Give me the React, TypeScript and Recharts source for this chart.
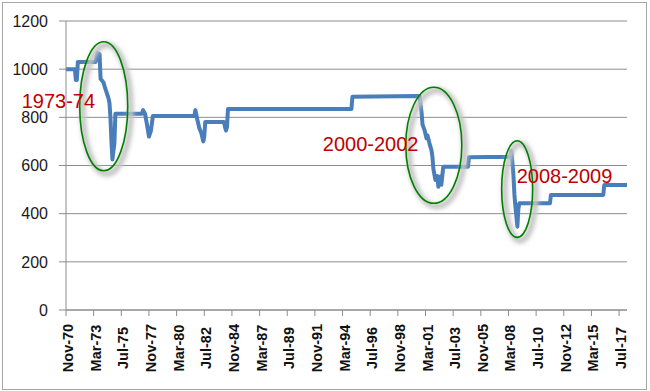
import React from 'react';
import { LineChart, Line, XAxis, YAxis, CartesianGrid, ReferenceDot } from 'recharts';

// months since Nov-70 (breakpoints of the step-like equity curve)
const monthIdx = [
  0, 9, 10, 11, 12, 30, 32, 34, 35, 38, 39, 43, 44, 45, 46, 47, 48, 49, 50,
  77, 78, 80, 82, 84, 86, 88,
  130, 131, 133, 135, 137, 139, 140, 141,
  160, 161, 162, 163, 164,
  289, 290,
  358, 359, 360, 361, 363, 365, 366, 368, 370, 371, 372, 374, 376, 377, 379, 380, 382,
  407, 408,
  450, 451, 452, 453, 454, 455, 457, 458, 459,
  490, 491, 544, 545, 568,
];
const equity = [
  1000, 1000, 955, 955, 1030, 1030, 1068, 1062, 960, 945, 930, 880, 860, 800, 700, 625, 660, 690, 815,
  815, 830, 815, 770, 720, 745, 806,
  806, 830, 790, 755, 735, 700, 720, 781,
  781, 760, 745, 760, 835,
  835, 885,
  889, 851, 820, 770, 747, 713, 725, 692, 664, 636, 585, 540, 556, 512, 554, 520, 595,
  595, 634,
  636, 660, 610, 560, 480, 430, 346, 420, 443,
  443, 478, 478, 519, 519,
];

const tickMonths = [0, 28, 56, 84, 112, 140, 168, 196, 224, 252, 280, 308, 336, 364, 392, 420, 448, 476, 504, 532, 560];
const tickLabels = [
  'Nov-70', 'Mar-73', 'Jul-75', 'Nov-77', 'Mar-80', 'Jul-82', 'Nov-84', 'Mar-87', 'Jul-89', 'Nov-91',
  'Mar-94', 'Jul-96', 'Nov-98', 'Mar-01', 'Jul-03', 'Nov-05', 'Mar-08', 'Jul-10', 'Nov-12', 'Mar-15', 'Jul-17',
];
const yTicks = [0, 200, 400, 600, 800, 1000, 1200];

// annotations: ellipse centre in data coords, label text
const eventNames = ['1973-74', '2000-2002', '2008-2009'];
const eventCenterMonth = [38.2, 372.4, 456.8];
const eventCenterValue = [846, 684, 502];

const data = monthIdx.map((m, i) => ({ m, v: equity[i] }));

const ellipseGeom = [
  { rx: 24, ry: 64.5, lx: -82, ly: 1.5 },
  { rx: 28, ry: 58, lx: -111, ly: 5.5 },
  { rx: 15.5, ry: 48.3, lx: -0.5, ly: -6.5 },
];

const XTick = (props: any) => {
  const { x, payload } = props;
  const i = tickMonths.indexOf(payload.value);
  return (
    <text
      transform={`translate(${x + 7}, 348) rotate(-90)`}
      textAnchor="middle"
      fontFamily="Liberation Sans, Arial, sans-serif"
      fontWeight="bold"
      fontSize={14.5}
      fill="#111"
    >
      {i >= 0 ? tickLabels[i] : ''}
    </text>
  );
};

const makeShape = (k: number) => (props: any) => {
  const { cx, cy } = props;
  const g = ellipseGeom[k];
  const fid = `blur${k}`;
  return (
    <g>
      <defs>
        <filter id={fid} x="-50%" y="-50%" width="200%" height="200%">
          <feGaussianBlur stdDeviation="2" />
        </filter>
      </defs>
      <ellipse cx={cx + 3} cy={cy + 3} rx={g.rx} ry={g.ry} fill="none" stroke="#c4c4c4" strokeWidth={6} filter={`url(#${fid})`} />
      <ellipse cx={cx} cy={cy} rx={g.rx} ry={g.ry} fill="none" stroke="#008000" strokeWidth={1.6} />
      <text
        x={cx + g.lx}
        y={cy + g.ly}
        fontFamily="Liberation Sans, Arial, sans-serif"
        fontSize={20}
        fill="#C00000"
      >
        {eventNames[k]}
      </text>
    </g>
  );
};

export default function App() {
  return (
    <div style={{ position: 'absolute', left: 0, top: 0, width: 650, height: 391, background: '#fff' }}>
      <div
        style={{
          position: 'absolute',
          left: 2,
          top: 2,
          width: 645,
          height: 388,
          border: '1px solid #a6a6a6',
          boxSizing: 'border-box',
        }}
      />
      <div style={{ position: 'absolute', left: 0, top: 0 }}>
        <LineChart width={650} height={391} data={data} margin={{ top: 21, right: 23, bottom: 11, left: 10 }}>
          <CartesianGrid vertical={false} stroke="#8c8c8c" strokeWidth={1} />
          <XAxis
            dataKey="m"
            type="number"
            domain={[0, 568]}
            ticks={tickMonths}
            interval={0}
            height={70}
            tickSize={6}
            axisLine={{ stroke: '#8c8c8c' }}
            tickLine={{ stroke: '#8c8c8c' }}
            tick={<XTick />}
          />
          <YAxis
            type="number"
            domain={[0, 1200]}
            ticks={yTicks}
            interval={0}
            width={56}
            tickSize={7}
            tickMargin={11}
            axisLine={{ stroke: '#8c8c8c' }}
            tickLine={{ stroke: '#8c8c8c' }}
            tick={{ fontFamily: 'Liberation Sans, Arial, sans-serif', fontSize: 16, fill: '#1a1a1a' }}
          />
          <Line
            dataKey="v"
            type="linear"
            stroke="#4A7EBB"
            strokeWidth={4}
            dot={false}
            strokeLinejoin="round"
            isAnimationActive={false}
          />
          {eventNames.map((n, k) => (
            <ReferenceDot
              key={n}
              x={eventCenterMonth[k]}
              y={eventCenterValue[k]}
              r={1}
              ifOverflow="visible"
              shape={makeShape(k)}
            />
          ))}
        </LineChart>
      </div>
    </div>
  );
}
